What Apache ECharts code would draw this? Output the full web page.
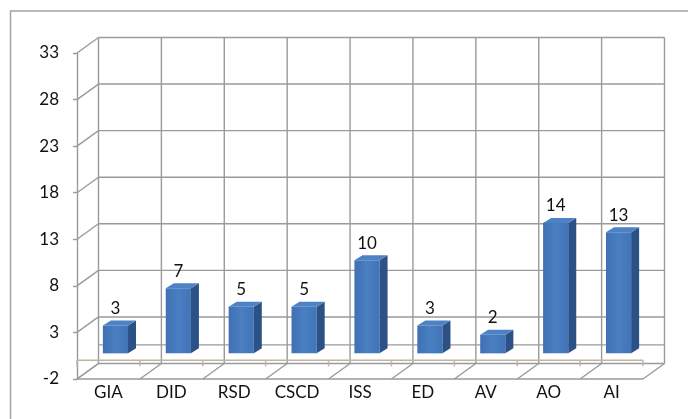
<!DOCTYPE html>
<html>
<head>
<meta charset="utf-8">
<script src="https://cdn.jsdelivr.net/npm/echarts@6/dist/echarts.min.js"></script>
<style>
  html, body { margin: 0; padding: 0; background: #fff; }
  #chart { width: 688px; height: 419px; }
</style>
</head>
<body>
<div id="chart"></div>
<script>
'use strict';

var categories = ['GIA', 'DID', 'RSD', 'CSCD', 'ISS', 'ED', 'AV', 'AO', 'AI'];
var values = [3, 7, 5, 5, 10, 3, 2, 14, 13];
var yTicks = [-2, 3, 8, 13, 18, 23, 28, 33];
var yMin = -2, yMax = 33, yStep = 5;

// offsets of the fake 3d box
var DX = 21.5, DY = -15.5;   // front plane -> back wall
var BX = 7, BY = -7;         // front plane -> bar front face
var SX = 8, SY = -5;         // bar depth
var gridColor = '#9a9a9a';
var axisColor = '#bfb4a3';
var font = 'Lato, "Open Sans", sans-serif';

var chart = echarts.init(document.getElementById('chart'));

// back wall gridlines + left wall diagonals, one per tick
function renderWalls(params, api) {
    var cs = params.coordSys;
    var y = api.coord([0, api.value(1)])[1];
    var st = { stroke: gridColor, lineWidth: 1.4 };
    return {
        type: 'group',
        children: [
            { type: 'line', shape: { x1: cs.x, y1: y, x2: cs.x + DX, y2: y + DY }, style: st },
            { type: 'line', shape: { x1: cs.x + DX, y1: y + DY, x2: cs.x + cs.width + DX, y2: y + DY }, style: st }
        ]
    };
}

// back wall verticals + floor diagonals at category boundaries, plus the 0 axis line
function renderCells(params, api) {
    var cs = params.coordSys;
    var idx = api.value(0);
    var band = api.size([1, 0])[0];
    var c = api.coord([idx, 0])[0];
    var y0 = api.coord([idx, 0])[1];
    var yb = cs.y + cs.height, yt = cs.y;
    var st = { stroke: gridColor, lineWidth: 1.4 };
    var ax = { stroke: axisColor, lineWidth: 1.5 };
    var xs = [c - band / 2];
    if (params.dataIndex === categories.length - 1) xs.push(c + band / 2);
    var children = [];
    xs.forEach(function (bx) {
        children.push({ type: 'line', shape: { x1: bx + DX, y1: yt + DY, x2: bx + DX, y2: yb + DY }, style: st });
        children.push({ type: 'line', shape: { x1: bx, y1: yb, x2: bx + DX, y2: yb + DY }, style: st });
        children.push({ type: 'line', shape: { x1: bx, y1: y0, x2: bx, y2: y0 + 6 }, style: ax, z2: 5 });
    });
    if (params.dataIndex === 0) {
        children.push({ type: 'line', shape: { x1: cs.x, y1: yb, x2: cs.x + cs.width, y2: yb }, style: st });
        children.push({ type: 'line', shape: { x1: cs.x + DX, y1: y0 + DY, x2: cs.x + cs.width + DX, y2: y0 + DY }, style: st });
        children.push({ type: 'line', shape: { x1: cs.x, y1: y0, x2: cs.x + cs.width, y2: y0 }, style: ax, z2: 5 });
    }
    return { type: 'group', children: children };
}

function renderBar(params, api) {
    var idx = api.value(0), v = api.value(1);
    var p0 = api.coord([idx, 0]);
    var p1 = api.coord([idx, v]);
    var w = api.size([1, 0])[0] * 0.4;
    var x0 = p0[0] - w / 2 + BX, x1 = x0 + w;
    var by = p0[1] + BY, ty = p1[1] + BY;
    return {
        type: 'group',
        children: [
            {
                type: 'rect',
                shape: { x: x0, y: ty, width: w, height: by - ty },
                style: {
                    fill: new echarts.graphic.LinearGradient(0, 0, 1, 0, [
                        { offset: 0, color: '#3f70b3' },
                        { offset: 0.5, color: '#4a7fc2' },
                        { offset: 1, color: '#4174b8' }
                    ])
                }
            },
            {
                type: 'polygon',
                shape: { points: [[x1, by], [x1 + SX, by + SY], [x1 + SX, ty + SY], [x1, ty]] },
                style: { fill: '#2c5186' }
            },
            {
                type: 'polygon',
                shape: { points: [[x0, ty], [x0 + SX, ty + SY], [x1 + SX, ty + SY], [x1, ty]] },
                style: { fill: '#4d82c4' }
            },
            {
                type: 'text',
                style: {
                    text: String(v), x: x0 + w / 2, y: ty + SY - 12,
                    align: 'center', verticalAlign: 'middle',
                    font: '17px ' + font, fill: '#111'
                }
            }
        ]
    };
}

var option = {
    animation: false,
    graphic: [{
        type: 'rect',
        shape: { x: 10.5, y: 11, width: 1000, height: 1000 },
        style: { fill: 'none', stroke: '#a3a3a3', lineWidth: 1.5 },
        silent: true
    }],
    grid: { left: 77, right: 45, top: 53, bottom: 40 },
    xAxis: {
        type: 'category',
        data: categories,
        axisLine: { show: false, onZero: false },
        axisTick: { show: false },
        axisLabel: { margin: 5, fontSize: 17, fontFamily: font, color: '#111', interval: 0 },
        splitLine: { show: false }
    },
    yAxis: {
        type: 'value',
        min: yMin, max: yMax, interval: yStep,
        axisLine: { show: true, lineStyle: { color: gridColor, width: 1.4 } },
        axisTick: { show: true, length: 4, lineStyle: { color: gridColor, width: 1.4 } },
        axisLabel: { margin: 18, fontSize: 17, fontFamily: font, color: '#111' },
        splitLine: { show: false }
    },
    series: [
        {
            type: 'custom', name: 'walls', renderItem: renderWalls, silent: true, z: 1,
            data: yTicks.map(function (t) { return [0, t]; })
        },
        {
            type: 'custom', name: 'cells', renderItem: renderCells, silent: true, z: 1,
            data: categories.map(function (c, i) { return [i, yMin]; })
        },
        {
            type: 'custom', name: 'bars', renderItem: renderBar, z: 3,
            data: values.map(function (v, i) { return [i, v]; })
        }
    ]
};

chart.setOption(option);
</script>
</body>
</html>
